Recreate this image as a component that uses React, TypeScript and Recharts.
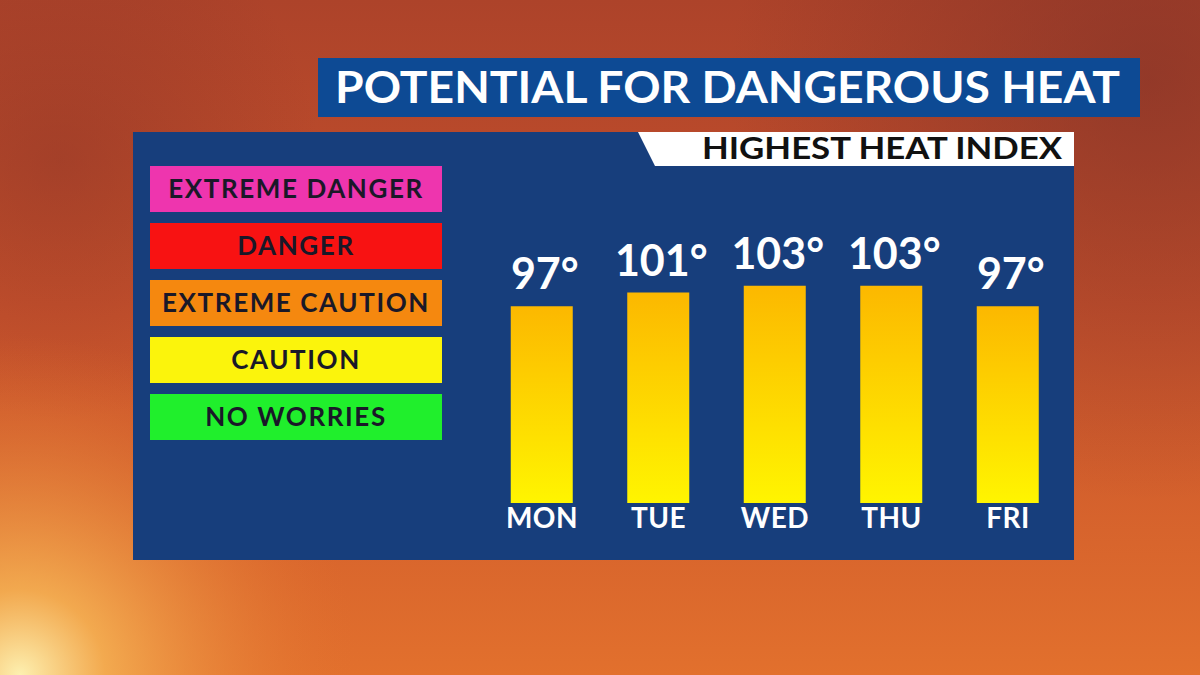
import React from 'react';
import { BarChart, Bar, XAxis, YAxis, LabelList } from 'recharts';

const days = ['MON', 'TUE', 'WED', 'THU', 'FRI'];
const heatIndex = [97, 101, 103, 103, 97];
const levelNames = ['EXTREME DANGER', 'DANGER', 'EXTREME CAUTION', 'CAUTION', 'NO WORRIES'];
const levelColors = ['#ee35ae', '#f81212', '#f5880f', '#fbf40c', '#20ef2c'];

const data = days.map((day, i) => ({ day, value: heatIndex[i] }));

const FONT = 'Lato, "Open Sans", sans-serif';

const DayTick = (props: any) => {
    const { x, y, payload } = props;
    return (
        <text x={x} y={y + 25} textAnchor="middle" fill="#ffffff" fontSize={28} fontFamily={FONT} fontWeight={700} letterSpacing={0.5}>
            {payload.value}
        </text>
    );
};

const ValueLabel = (props: any) => {
    const { x, y, width, value } = props;
    return (
        <text x={x + width / 2 + 3} y={y - 17} textAnchor="middle" fill="#ffffff" fontSize={43} fontFamily={FONT} fontWeight={700}>
            {`${value}°`}
        </text>
    );
};

const Backdrop = () => (
    <svg width={1200} height={675} style={{ position: 'absolute', left: 0, top: 0 }}>
        <defs>
            <linearGradient id="sky" x1="0" y1="0" x2="0" y2="1">
                <stop offset="0%" stopColor="#ad432a" />
                <stop offset="45%" stopColor="#c6512c" />
                <stop offset="100%" stopColor="#e2702d" />
            </linearGradient>
            <radialGradient id="glow" cx="20" cy="675" r="340" gradientUnits="userSpaceOnUse">
                <stop offset="0%" stopColor="#fdf0b0" stopOpacity={1} />
                <stop offset="25%" stopColor="#f6b455" stopOpacity={0.85} />
                <stop offset="100%" stopColor="#e3702c" stopOpacity={0} />
            </radialGradient>
            <radialGradient id="dark" cx="1150" cy="80" r="420" gradientUnits="userSpaceOnUse">
                <stop offset="0%" stopColor="#7e3027" stopOpacity={0.6} />
                <stop offset="100%" stopColor="#7e3027" stopOpacity={0} />
            </radialGradient>
            <radialGradient id="darkLeft" cx="60" cy="160" r="260" gradientUnits="userSpaceOnUse">
                <stop offset="0%" stopColor="#8a3326" stopOpacity={0.45} />
                <stop offset="100%" stopColor="#8a3326" stopOpacity={0} />
            </radialGradient>
        </defs>
        <rect x={0} y={0} width={1200} height={675} fill="url(#sky)" />
        <rect x={0} y={0} width={1200} height={675} fill="url(#dark)" />
        <rect x={0} y={0} width={1200} height={675} fill="url(#darkLeft)" />
        <rect x={0} y={0} width={1200} height={675} fill="url(#glow)" />

        <rect x={318} y={58} width={822} height={59} fill="#0d4a94" />
        <text x={335} y={103} fill="#ffffff" fontSize={43} fontFamily={FONT} fontWeight={700} textLength={785} lengthAdjust="spacingAndGlyphs">
            POTENTIAL FOR DANGEROUS HEAT
        </text>

        <rect x={133} y={132} width={941} height={428} fill="#173e7c" />
        <polygon points="638,132 1074,132 1074,166 655,166" fill="#ffffff" />
        <text x={702} y={159} fill="#111111" fontSize={30} fontFamily={FONT} fontWeight={700} textLength={360} lengthAdjust="spacingAndGlyphs">
            HIGHEST HEAT INDEX
        </text>

        {levelNames.map((name, i) => (
            <g key={name}>
                <rect x={150} y={166 + i * 57} width={292} height={46} fill={levelColors[i]} />
                <text x={296} y={166 + i * 57 + 32} textAnchor="middle" fill="#1a1828" fontSize={26} fontFamily={FONT} fontWeight={700} letterSpacing={1.6}>
                    {name}
                </text>
            </g>
        ))}
    </svg>
);

const App: React.FC = () => {
    return (
        <div style={{ position: 'absolute', left: 0, top: 0, width: 1200, height: 675, overflow: 'hidden' }}>
            <Backdrop />
            <div style={{ position: 'absolute', left: 0, top: 0 }}>
                <BarChart width={1200} height={675} data={data} margin={{ top: 261.5, right: 133.75, bottom: 132, left: 483.75 }} barSize={62}>
                    <defs>
                        <linearGradient id="heatBar" x1="0" y1="0" x2="0" y2="1">
                            <stop offset="0%" stopColor="#fcb800" />
                            <stop offset="100%" stopColor="#fff500" />
                        </linearGradient>
                    </defs>
                    <XAxis dataKey="day" height={40} axisLine={false} tickLine={false} tickSize={0} tickMargin={0} tick={<DayTick />} interval={0} />
                    <YAxis hide domain={[40, 110]} />
                    <Bar dataKey="value" fill="url(#heatBar)" isAnimationActive={false}>
                        <LabelList dataKey="value" content={<ValueLabel />} />
                    </Bar>
                </BarChart>
            </div>
        </div>
    );
};

export default App;
